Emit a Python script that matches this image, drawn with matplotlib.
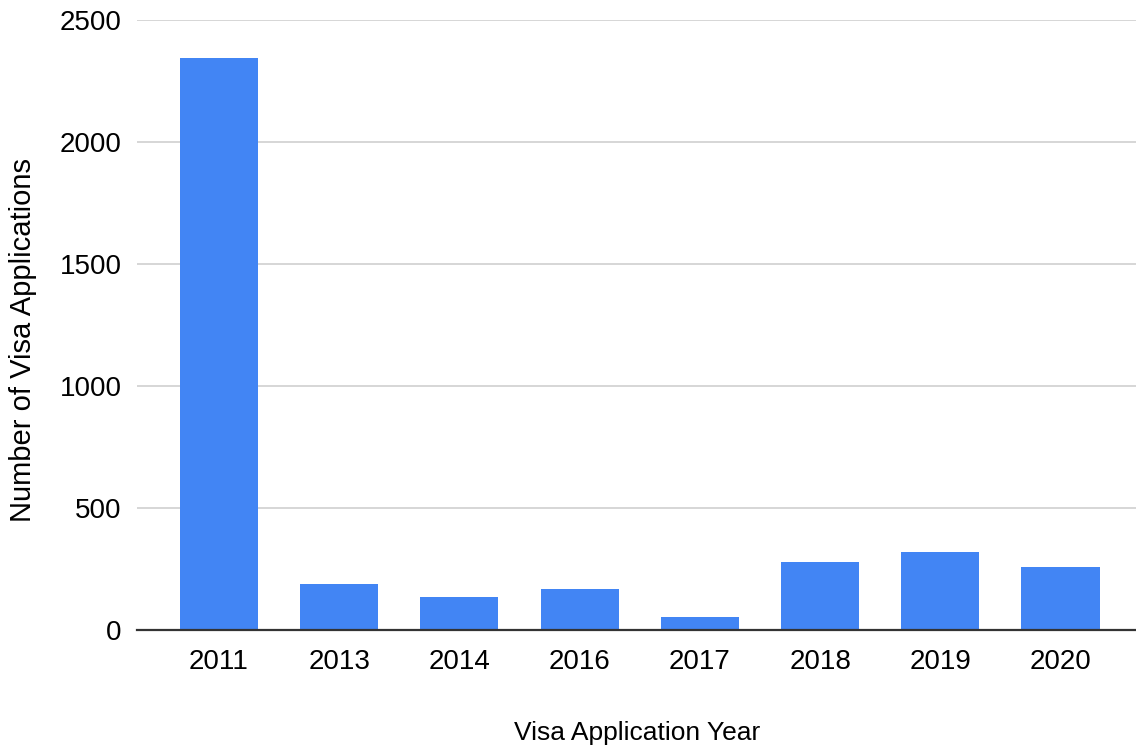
import matplotlib
matplotlib.use("Agg")
import matplotlib.pyplot as plt
from matplotlib import font_manager

years = ["2011", "2013", "2014", "2016", "2017", "2018", "2019", "2020"]
applications = [2343, 187, 135, 167, 55, 277, 318, 257]
y_ticks = [0, 500, 1000, 1500, 2000, 2500]

installed = {f.name for f in font_manager.fontManager.ttflist}
font = "Liberation Sans Narrow" if "Liberation Sans Narrow" in installed else "Liberation Sans"
plt.rcParams["font.family"] = [font, "DejaVu Sans"]

W, H = 1136, 751
fig = plt.figure(figsize=(W / 100, H / 100), dpi=100)
ax = fig.add_axes([137 / W, 1 - 630 / H, (W - 137) / W, (630 - 20) / H])

x = range(len(years))
ax.bar(x, applications, width=0.65, color="#4285F4", zorder=3)

ax.set_ylim(0, 2500)
ax.set_xlim(-0.682, 7.628)
ax.set_yticks(y_ticks)
ax.set_xticks(list(x))
ax.set_xticklabels(years)
ax.grid(axis="y", color="#cccccc", linewidth=1.1, zorder=0)
ax.tick_params(axis="both", length=0, labelsize=20, colors="#000000")
ax.tick_params(axis="x", pad=14)
ax.tick_params(axis="y", pad=11)

for side in ["top", "right", "left"]:
    ax.spines[side].set_visible(False)
ax.spines["bottom"].set_color("#333333")
ax.spines["bottom"].set_linewidth(1.6)
ax.spines["bottom"].set_zorder(4)

fig.text(637 / W, 1 - 733 / H, "Visa Application Year", ha="center", va="center", fontsize=19)
fig.text(23 / W, 1 - 340 / H, "Number of Visa Applications", ha="center", va="center",
         rotation=90, fontsize=21)

fig.savefig("out.png", dpi=100)
